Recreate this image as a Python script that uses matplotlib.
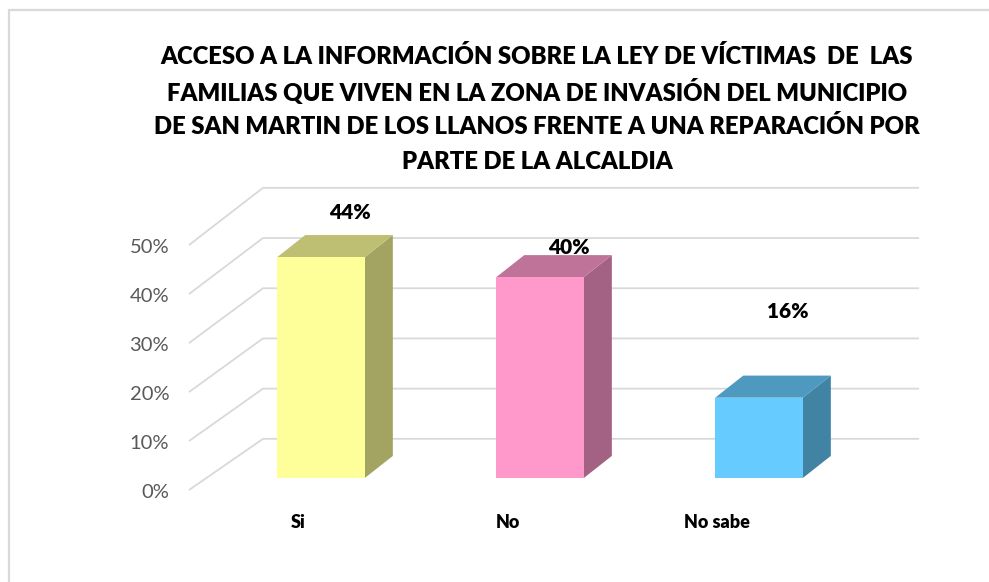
"""
3D-style column chart: acceso a la información sobre la ley de víctimas.
"""
import matplotlib
matplotlib.use("Agg")
import matplotlib.pyplot as plt
from matplotlib.patches import Polygon, Rectangle
from matplotlib.colors import to_rgb

# -------------------- Data --------------------
categories = ["Si", "No", "No sabe"]
values = [44, 40, 16]                       # percent
value_labels = ["44%", "40%", "16%"]
tick_values = [0, 10, 20, 30, 40, 50]
tick_labels = ["0%", "10%", "20%", "30%", "40%", "50%"]

title_lines = ["ACCESO A LA INFORMACIÓN SOBRE LA LEY DE VÍCTIMAS  DE  LAS",
               "FAMILIAS QUE VIVEN EN LA ZONA DE INVASIÓN DEL MUNICIPIO",
               "DE SAN MARTIN DE LOS LLANOS FRENTE A UNA REPARACIÓN POR",
               "PARTE DE LA ALCALDIA"]

# -------------------- Style --------------------
front_colors = ["#FFFF99", "#FF99CC", "#66CCFF"]
grid_color = "#D9D9D9"
FONT = "Lato"

bar_w = 0.40                 # front face width (category units)
depth = (0.128, 4.4)         # bar depth offset (x units, % units)
wall_front_x = -0.603
wall_back_x = -0.265
wall_right_x = 2.731
front_off, back_off = -2.4, 7.8   # floor offsets of front edge / back wall
persp = 0.976                     # front edge compression
label_dx = 0.13
label_dy = [8.9, 6.0, 17.1]       # Excel placed these labels unevenly
cat_dx = [-0.105, -0.146, -0.192]


def shade(c, f):
    r, g, b = to_rgb(c)
    return (r * f, g * f, b * f)


fig = plt.figure(figsize=(9.89, 5.82), dpi=100)
ax = fig.add_axes([0, 0, 1, 1])
ax.set_xlim(-1.4658, 3.0502)
ax.set_ylim(-20.717, 95.22)
ax.axis("off")

# chart border (only top/left visible in the original crop)
fig.patches.append(Rectangle((9 / 989, -0.1), 2.0, 1 - 10 / 582 + 0.1,
                             transform=fig.transFigure, fill=False,
                             edgecolor=grid_color, linewidth=1.6))

# -------------------- Walls / grid --------------------
for t, lab in zip(tick_values, tick_labels):
    yf = t * persp + front_off
    yb = t + back_off
    ax.plot([wall_front_x, wall_back_x, wall_right_x], [yf, yb, yb],
            color=grid_color, lw=1.3, solid_capstyle="butt", zorder=1)
    ax.text(wall_front_x - 0.09, yf - 0.4, lab, ha="right", va="center",
            fontsize=14.5, color="#595959", family=FONT)

# -------------------- Bars --------------------
dx, dy = depth
for i, (v, c) in enumerate(zip(values, front_colors)):
    x0, x1 = i - bar_w / 2, i + bar_w / 2
    ax.bar(i, v, width=bar_w, color=c, linewidth=0, zorder=3)
    side = [(x1, 0), (x1 + dx, dy), (x1 + dx, v + dy), (x1, v)]
    top = [(x0, v), (x1, v), (x1 + dx, v + dy), (x0 + dx, v + dy)]
    ax.add_patch(Polygon(side, closed=True, facecolor=shade(c, 0.64),
                         linewidth=0, zorder=2))
    ax.add_patch(Polygon(top, closed=True, facecolor=shade(c, 0.75),
                         linewidth=0, zorder=2))
    ax.text(i + label_dx, v + label_dy[i], value_labels[i], ha="center",
            va="center", fontsize=15, fontweight="heavy", family=FONT, zorder=5)
    ax.text(i + cat_dx[i], -8.96, categories[i], ha="center", va="center",
            fontsize=13, fontweight="heavy", family=FONT)

# -------------------- Title --------------------
# one text per line so the spacing matches Excel's evenly spaced lines
title_y = [55, 90, 125, 160]   # line centres, pixels from top
for line, ypx in zip(title_lines, title_y):
    fig.text(537 / 989, 1 - ypx / 582, line, ha="center", va="center_baseline",
             fontsize=17.2, fontweight="heavy", family=FONT)

plt.savefig("out.png", dpi=100)
